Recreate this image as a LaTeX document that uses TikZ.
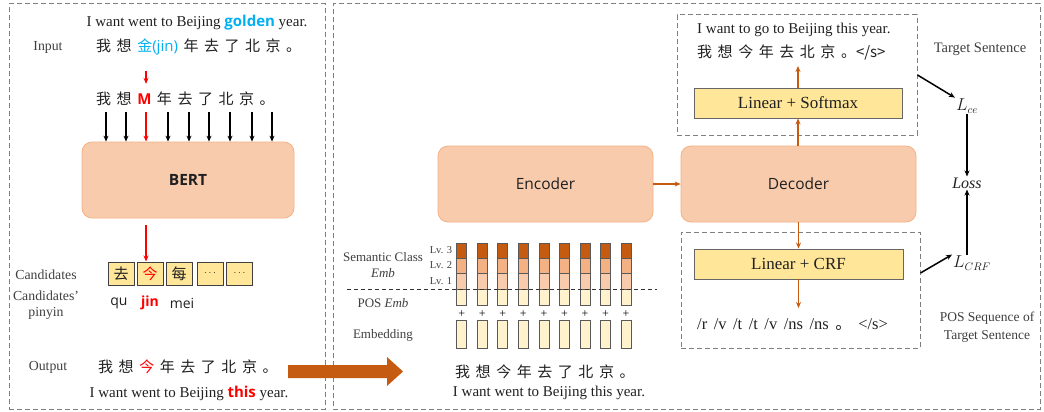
\documentclass[tikz,border=0pt]{standalone}
\usepackage{fontspec}
\setmainfont{Liberation Serif}
\newfontfamily\sansf{Open Sans}
\newfontfamily\cjk[WordSpace=1.65]{Noto Sans CJK SC}
\usetikzlibrary{arrows.meta}
\definecolor{peach}{HTML}{F8CBAD}
\definecolor{peachb}{HTML}{F4B183}
\definecolor{yel}{HTML}{FFE699}
\definecolor{cream}{HTML}{FFF2CC}
\definecolor{lv2}{HTML}{F4B183}
\definecolor{lv1}{HTML}{F8CBAD}
\definecolor{rust}{HTML}{C55A11}
\definecolor{sky}{HTML}{00B0F0}
\definecolor{framec}{HTML}{7F7F7F}
\definecolor{labc}{HTML}{3F3F3F}
\definecolor{txt}{HTML}{202020}
\tikzset{
  sent/.style={font=\fontsize{15}{17}\selectfont, text=txt, inner sep=0pt},
  lab/.style={font=\fontsize{13.8}{16.5}\selectfont, text=labc, inner sep=0pt, align=center},
  zh/.style={font=\cjk\fontsize{15}{17}\selectfont, text=txt, inner sep=0pt, anchor=west},
  py/.style={font=\sansf\fontsize{14}{16}\selectfont, text=txt, inner sep=0pt},
  bigbox/.style={draw=peachb, fill=peach, rounded corners=10pt, line width=0.8pt,
    font=\sansf\fontsize{15.5}{18}\selectfont, text=txt},
  linbox/.style={draw=black!60, fill=yel, line width=0.9pt,
    font=\fontsize{17}{19}\selectfont, minimum height=30pt, inner sep=0pt, text=txt},
  cand/.style={draw=black!75, fill=yel, line width=1pt, minimum width=26pt,
    minimum height=23pt, inner sep=0pt, font=\cjk\fontsize{15}{17}\selectfont, text=txt},
  pan/.style={draw=framec, dash pattern=on 5pt off 3pt, line width=1pt, inner sep=0pt},
  blk/.style={-{Stealth[length=6pt,width=5pt]}, line width=1.2pt, black},
  redar/.style={-{Stealth[length=6pt,width=5pt]}, line width=1.2pt, red},
  orar/.style={-{Stealth[length=6pt,width=5pt]}, line width=1.2pt, rust},
  cell/.style={draw=black!65, line width=0.8pt},
  mathlab/.style={font=\fontsize{16}{19}\selectfont, text=txt, inner sep=1pt},
}
\begin{document}
\begin{tikzpicture}[x=1pt,y=-1pt]
\useasboundingbox (0,0) rectangle (1044,412);
% panels
\node[pan, minimum width=316pt, minimum height=405pt] (lp) at (167,206.5) {};
\node[pan, minimum width=707pt, minimum height=405pt] (rp) at (686.5,206.5) {};

% ---------- left panel ----------
\node[sent] (s1) at (197,23) {I want went to Beijing {\sansf\bfseries\color{sky}golden} year.};
\node[lab] (inp) at (48,47) {Input};
\node[zh] (r1) at (96,47) {我 想 {\color{sky}金\sansf(jin)} 年 去 了 北 京 。};
\coordinate (mx) at (146,0);
\node[zh] (r2) at (96,99) {我 想 {\sansf\bfseries\color{red}M} 年 去 了 北 京 。};
\draw[redar, shorten <=16pt, shorten >=8pt] (r1.south -| mx) -- (r2.north -| mx);

\node[bigbox, font=\sansf\bfseries\fontsize{15.5}{18}\selectfont,
      minimum width=212pt, minimum height=76pt] (bert) at (188,180) {BERT};
\foreach \x [count=\i] in {106,126,146,168,189,209,230,252,272}
  \coordinate (t\i) at (\x,112);
\foreach \i in {1,2,4,5,6,7,8,9}
  \draw[blk] (t\i) -- (t\i |- bert.north);
\draw[redar] (t3) -- (t3 |- bert.north);

\node[cand] (c1) at (121,273.5) {去};
\node[cand, text=red] (c2) at (150,273.5) {今};
\node[cand] (c3) at (179,273.5) {每};
\node[cand, font=\fontsize{10}{10}\selectfont] (c4) at (210,273.5) {$\cdots$};
\node[cand, font=\fontsize{10}{10}\selectfont] (c5) at (239.5,273.5) {$\cdots$};
\draw[redar, shorten <=7pt] (bert.south -| mx) -- (c2.north -| mx);

\node[lab] (cl) at (46,275) {Candidates};
\node[lab] (cpl) at (46,305) {Candidates’\\pinyin};
\node[py] (p1) at (119,303) {qu};
\node[py, text=red, font=\sansf\bfseries\fontsize{14}{16}\selectfont] (p2) at (150,303) {jin};
\node[py] (p3) at (182,303) {mei};

\node[lab] (outl) at (48,367) {Output};
\node[zh] (r3) at (98,367) {我 想 {\color{red}今} 年 去 了 北 京 。};
\node[sent] (s2) at (189,393) {I want went to Beijing {\sansf\bfseries\color{red}this} year.};

% big arrow between panels
\fill[rust] (288,365) -- (387,365) -- (387,357) -- (403,371.5) -- (387,386) -- (387,378) -- (288,378) -- cycle;

% ---------- right panel ----------
\node[bigbox, minimum width=215pt, minimum height=76pt] (enc) at (545.5,184) {Encoder};
\node[bigbox, minimum width=235pt, minimum height=76pt] (dec) at (798.5,184) {Decoder};
\draw[orar] (enc) -- (dec);

% top box
\node[pan, minimum width=240pt, minimum height=120pt] (tb) at (797,75) {};
\node[sent, anchor=west] (ts) at (697,30) {I want to go to Beijing this year.};
\node[zh] (tz) at (697,52) {我 想 今 年 去 北 京 。</s>};
\node[linbox, minimum width=208pt] (soft) at (798,103) {Linear + Softmax};
\draw[orar] (dec.north -| soft) -- (soft.south);
\coordinate (tt) at (798,66);
\draw[orar] (soft.north) -- (tt);
\node[lab, font=\fontsize{14.5}{17}\selectfont] (tsl) at (980,49) {Target Sentence};

% loss
\node[mathlab] (lce) at (967,106) {$L_{ce}$};
\node[mathlab, font=\itshape\fontsize{16}{19}\selectfont] (loss) at (967,183) {Loss};
\node[mathlab] (lcrf) at (972,263) {$L_{CRF}$};
\draw[blk, line width=1.5pt] (tb.east) -- (lce.north west);
\draw[blk, line width=1.5pt] (lce.south -| loss) -- (loss.north);
\draw[blk, line width=1.5pt] (lcrf.north -| loss) -- (loss.south);

% bottom box
\node[pan, minimum width=239pt, minimum height=116pt] (bb) at (800.5,290) {};
\node[linbox, minimum width=209pt] (crf) at (798.5,264) {Linear + CRF};
\draw[orar] (dec.south -| crf) -- (crf.north);
\coordinate (bt) at (798.5,308);
\draw[orar] (crf.south) -- (bt);
\node[sent, anchor=west, font=\fontsize{16.5}{19}\selectfont] (pos) at (697,325) {\spaceskip=6.5pt plus 0pt /r /v /t /t /v /ns /ns {\cjk 。} </s>};
\draw[blk, line width=1.5pt] ([yshift=17pt]bb.east) -- (lcrf.north west);
\node[lab, font=\fontsize{13.5}{18}\selectfont] (posl) at (987,327) {POS Sequence of\\Target Sentence};

% embedding stack
\foreach \i in {0,...,8} {
  \pgfmathsetmacro\cx{461.7+20.55*\i}
  \draw[cell, fill=rust] (\cx-5,243) rectangle (\cx+5,258.5);
  \draw[cell, fill=lv2] (\cx-5,258.5) rectangle (\cx+5,273.5);
  \draw[cell, fill=lv1] (\cx-5,273.5) rectangle (\cx+5,289);
  \draw[cell, fill=cream] (\cx-5,289) rectangle (\cx+5,305);
  \node[font=\fontsize{12}{12}\selectfont, inner sep=0pt] (pl\i) at (\cx,314) {+};
  \draw[cell, fill=cream] (\cx-5,320) rectangle (\cx+5,348);
}
\draw[dash pattern=on 4pt off 3pt, line width=1pt, black!80] (347,289) -- (657,289);
\node[lab, font=\fontsize{10.5}{12}\selectfont] (lv3) at (441,250) {Lv. 3};
\node[lab, font=\fontsize{10.5}{12}\selectfont] (lv2l) at (441,265.5) {Lv. 2};
\node[lab, font=\fontsize{10.5}{12}\selectfont] (lv1l) at (441,281) {Lv. 1};
\node[lab, font=\fontsize{13}{15.5}\selectfont] (scl) at (383,265) {Semantic Class\\\emph{Emb}};
\node[lab, font=\fontsize{13}{15.5}\selectfont] (pe) at (383,303) {POS \emph{Emb}};
\node[lab, font=\fontsize{13}{15.5}\selectfont] (eml) at (383,335) {Embedding};
\node[zh] (ez) at (455,372) {我 想 今 年 去 了 北 京 。};
\node[sent] (es) at (549,393) {I want went to Beijing this year.};
\end{tikzpicture}
\end{document}
